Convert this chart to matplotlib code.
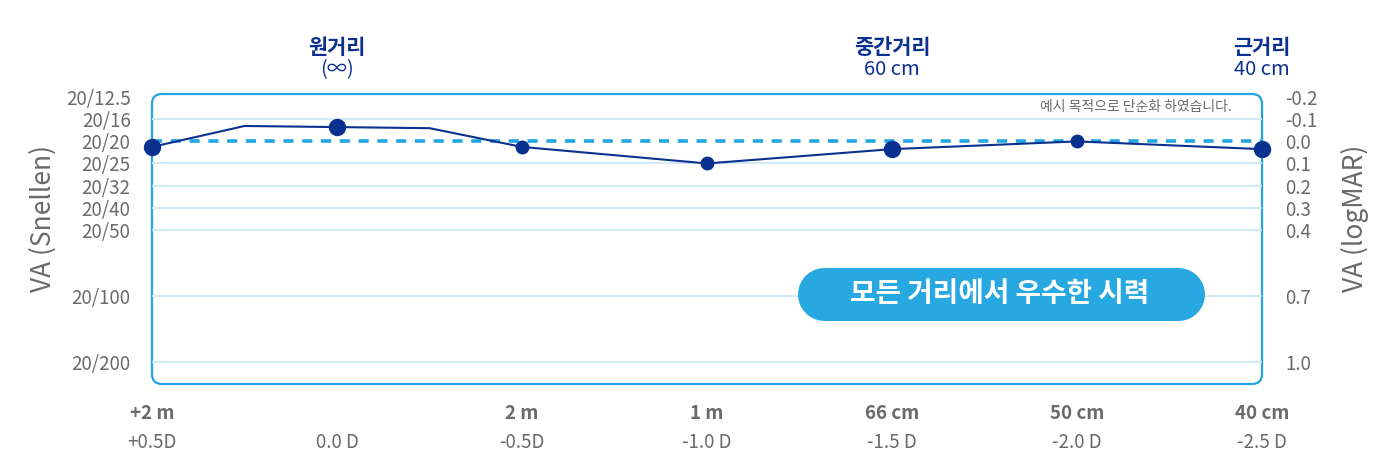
import matplotlib
matplotlib.use("Agg")
import matplotlib.pyplot as plt
from matplotlib.patches import FancyBboxPatch
from matplotlib.lines import Line2D
from matplotlib.transforms import IdentityTransform, blended_transform_factory

plt.rcParams['font.family'] = ['Noto Sans CJK KR', 'DejaVu Sans']

# ---- data -------------------------------------------------------------
dioptre = [0.5, 0.25, 0.0, -0.25, -0.5, -1.0, -1.5, -2.0, -2.5]
logmar = [0.025, -0.07, -0.065, -0.06, 0.025, 0.10, 0.035, 0.0, 0.035]
marker_kind = ['big', None, 'big', None, 'small', 'small', 'big', 'small', 'big']

logmar_ticks = [-0.2, -0.1, 0.0, 0.1, 0.2, 0.3, 0.4, 0.7, 1.0]
logmar_labels = ['-0.2', '-0.1', '0.0', '0.1', '0.2', '0.3', '0.4', '0.7', '1.0']
snellen_ticks = [-0.2, -0.1, 0.0, 0.1, 0.2, 0.3, 0.4, 0.7, 1.0]
snellen_labels = ['20/12.5', '20/16', '20/20', '20/25', '20/32', '20/40', '20/50',
                  '20/100', '20/200']

x_pos = [0.5, 0.0, -0.5, -1.0, -1.5, -2.0, -2.5]
dist_labels = ['+2 m', '', '2 m', '1 m', '66 cm', '50 cm', '40 cm']
dpt_labels = ['+0.5D', '0.0 D', '-0.5D', '-1.0 D', '-1.5 D', '-2.0 D', '-2.5 D']

top_pos = [0.0, -1.5, -2.5]
top_titles = ['원거리', '중간거리', '근거리']
top_subs = ['(∞)', '60 cm', '40 cm']

# ---- colours ----------------------------------------------------------
DARK = '#0a318f'
LIGHT = '#22a6e2'
GRID = '#cce9f6'
GRAY = '#6a6a6a'

fig = plt.figure(figsize=(14, 4.72), dpi=100)
ax = fig.add_axes([152 / 1400, 88 / 472, 1110 / 1400, 290 / 472])
ax.set_xlim(0.5, -2.5)
ax.set_ylim(1.10, -0.215)

for s in ax.spines.values():
    s.set_visible(False)

# rounded frame
frame = FancyBboxPatch((0, 0), 1, 1, boxstyle='round,pad=0,rounding_size=0.009',
                       mutation_aspect=1110 / 290, transform=ax.transAxes,
                       facecolor='none', edgecolor=LIGHT, lw=1.6, clip_on=False, zorder=1)
ax.add_patch(frame)

for t in logmar_ticks:
    if t in (-0.2, 0.0):
        continue
    ax.axhline(t, color=GRID, lw=1.3, zorder=1)

ax.axhline(0.0, color=LIGHT, lw=2.6, dashes=(2.8, 2.4), zorder=2)

ax.plot(dioptre, logmar, color=DARK, lw=1.5, zorder=3, clip_on=False)
big = [(d, v) for d, v, k in zip(dioptre, logmar, marker_kind) if k == 'big']
small = [(d, v) for d, v, k in zip(dioptre, logmar, marker_kind) if k == 'small']
ax.plot([p[0] for p in big], [p[1] for p in big], 'o', color=DARK, ms=11.5,
        zorder=4, clip_on=False)
ax.plot([p[0] for p in small], [p[1] for p in small], 'o', color=DARK, ms=9,
        zorder=4, clip_on=False)

# left axis: Snellen
ax.set_yticks(snellen_ticks)
ax.set_yticklabels(snellen_labels, fontsize=13.5, color=GRAY)
ax.tick_params(axis='y', length=0, pad=15.5)
ax.set_xticks([])
ax.set_ylabel('VA (Snellen)', fontsize=19, color=GRAY)
ax.yaxis.set_label_coords(-0.086, 0.572)

# right axis: logMAR
ax2 = ax.twinx()
ax2.set_ylim(ax.get_ylim())
for s in ax2.spines.values():
    s.set_visible(False)
ax2.set_yticks(logmar_ticks)
ax2.set_yticklabels(logmar_labels, fontsize=13.5, color=GRAY)
ax2.tick_params(axis='y', length=0, pad=17)
ax2.set_ylabel('VA (logMAR)', fontsize=19, color=GRAY, rotation=90)
ax2.yaxis.set_label_coords(1.071, 0.572)

# bottom labels
trans = blended_transform_factory(ax.transData, ax.transAxes)
for x, d1, d2 in zip(x_pos, dist_labels, dpt_labels):
    ax.text(x, -0.103, d1, transform=trans, ha='center', va='center',
            fontsize=13.5, fontweight='bold', color=GRAY)
    ax.text(x, -0.2, d2, transform=trans, ha='center', va='center',
            fontsize=13.5, color=GRAY)

# top labels
for x, t1, t2 in zip(top_pos, top_titles, top_subs):
    ax.text(x, 1.16, t1, transform=trans, ha='center', va='center',
            fontsize=15, fontweight='bold', color=DARK)
    ax.text(x, 1.085, t2, transform=trans, ha='center', va='center',
            fontsize=14.5, color=DARK)

ax.text(0.973, 0.955, '예시 목적으로 단순화 하였습니다.', transform=ax.transAxes,
        ha='right', va='center', fontsize=10, color=GRAY)

# badge: a thick line with round caps gives a true pill shape
badge = Line2D([797 + 26.5, 1204 - 26.5], [472 - 293.5, 472 - 293.5],
               transform=IdentityTransform(), color='#27a8e0',
               lw=53 * 72 / 100, solid_capstyle='round', zorder=5)
fig.lines.append(badge)
fig.text(1000 / 1400, (472 - 294) / 472, '모든 거리에서 우수한 시력', ha='center',
         va='center', fontsize=20, fontweight='bold', color='white', zorder=6)

fig.savefig('out.png', dpi=100)
